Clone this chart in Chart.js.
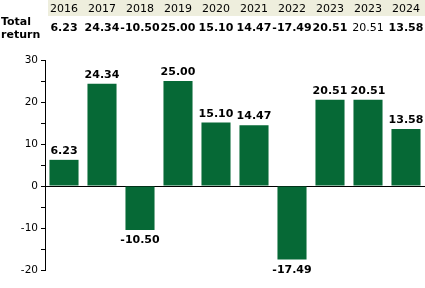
<!DOCTYPE html>
<html><head><meta charset="utf-8">
<script src="https://cdn.jsdelivr.net/npm/chart.js@4/dist/chart.umd.min.js"></script>
<style>html,body{margin:0;padding:0;background:#fff;}#wrap{width:425px;height:288px;}</style>
</head><body><div id="wrap"><canvas id="c" width="425" height="288"></canvas></div>
<script>
const years = ['2016','2017','2018','2019','2020','2021','2022','2023','2023','2024'];
const returns = [6.23, 24.34, -10.50, 25.00, 15.10, 14.47, -17.49, 20.51, 20.51, 13.58];
const rowLabel = ['Total', 'return'];
const yTicks = [-20, -10, 0, 10, 20, 30];

const BAR = '#066936';
const FONT = '"DejaVu Sans", Verdana, sans-serif';

const tablePlugin = {
  id: 'tablePlugin',
  afterDraw(chart) {
    const ctx = chart.ctx, xs = chart.scales.x;
    ctx.save();
    ctx.fillStyle = '#eeeedd';
    ctx.fillRect(48, 0, 425 - 48, 16);
    ctx.fillStyle = '#000';
    ctx.textAlign = 'center';
    ctx.textBaseline = 'alphabetic';
    ctx.font = '11px ' + FONT;
    years.forEach((y, i) => ctx.fillText(y, xs.getPixelForValue(i), 11.5));
    returns.forEach((v, i) => {
      ctx.font = (i === 8 ? '' : 'bold ') + '11px ' + FONT;
      ctx.fillText(v.toFixed(2), xs.getPixelForValue(i), 30.5);
    });
    ctx.textAlign = 'left';
    ctx.font = 'bold 11px ' + FONT;
    ctx.fillText(rowLabel[0], 1, 25);
    ctx.fillText(rowLabel[1], 1, 37.5);
    ctx.textAlign = 'center';
    const meta = chart.getDatasetMeta(0);
    meta.data.forEach((bar, i) => {
      const v = returns[i];
      if (v >= 0) {
        ctx.textBaseline = 'alphabetic';
        ctx.fillText(v.toFixed(2), bar.x, bar.y - 6);
      } else {
        ctx.textBaseline = 'top';
        ctx.fillText(v.toFixed(2), bar.x, bar.y + 5);
      }
    });
    ctx.restore();
  }
};

new Chart(document.getElementById('c'), {
  type: 'bar',
  data: {
    labels: years.map((y, i) => y + '#' + i),
    datasets: [{ data: returns, backgroundColor: BAR, borderWidth: 0,
      categoryPercentage: 1.0, barPercentage: 0.765 }]
  },
  options: {
    responsive: false,
    animation: false,
    devicePixelRatio: 1,
    layout: { padding: { top: 60, bottom: 18, left: 0, right: 0 } },
    plugins: { legend: { display: false }, tooltip: { enabled: false } },
    scales: {
      x: { display: false, offset: true },
      y: {
        min: yTicks[0], max: yTicks[yTicks.length - 1],
        afterFit(s) { s.width = 45; },
        border: { display: true, color: '#000', width: 1 },
        grid: {
          drawOnChartArea: true,
          color: c => (c.tick && c.tick.value === 0) ? '#000' : 'rgba(0,0,0,0)',
          tickColor: '#000',
          tickLength: 4,
          lineWidth: 1
        },
        ticks: {
          stepSize: 5,
          padding: 3,
          color: '#000',
          font: { family: FONT, size: 10.5 },
          callback: v => (yTicks.includes(v) ? String(v) : '')
        }
      }
    }
  },
  plugins: [tablePlugin]
});
</script></body></html>
